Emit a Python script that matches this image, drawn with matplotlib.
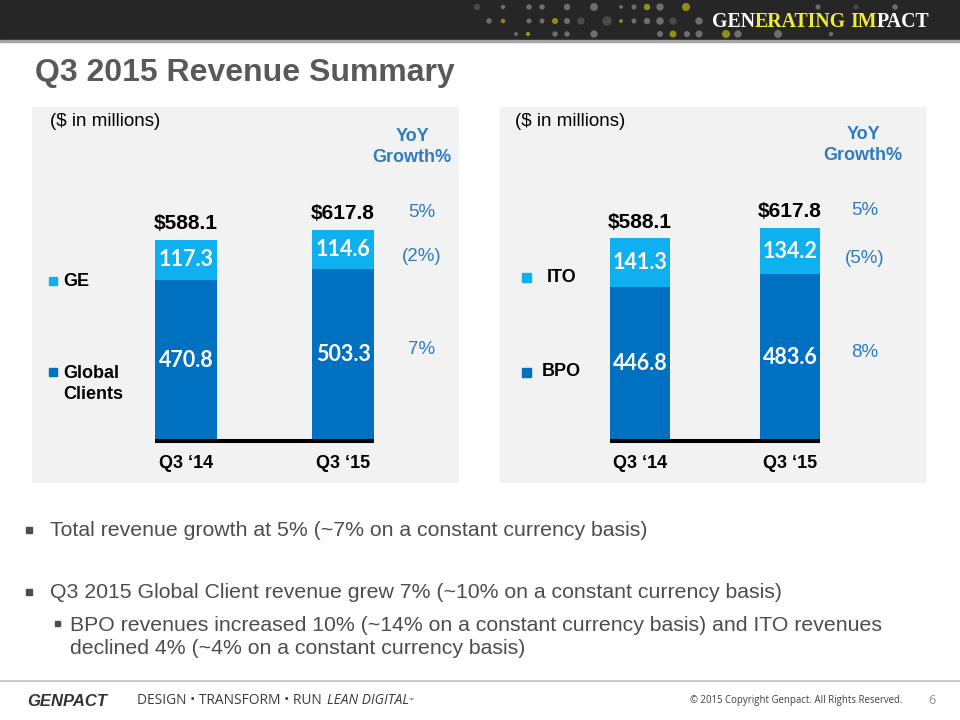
import numpy as np
import matplotlib
matplotlib.use("Agg")
import matplotlib.pyplot as plt
from matplotlib.patches import Rectangle, Circle

# ---- data -------------------------------------------------------------
quarters = ["Q3 \u201814", "Q3 \u201815"]
totals = [588.1, 617.8]

client_names = ["GE", "Global\nClients"]
ge_rev = [117.3, 114.6]
global_clients_rev = [470.8, 503.3]
client_growth = ["5%", "(2%)", "7%"]

service_names = ["ITO", "BPO"]
ito_rev = [141.3, 134.2]
bpo_rev = [446.8, 483.6]
service_growth = ["5%", "(5%)", "8%"]

bullets = [
    "Total revenue growth at 5% (~7% on a constant currency basis)",
    "Q3 2015 Global Client revenue grew 7% (~10% on a constant currency basis)",
]
sub_bullet = ("BPO revenues increased 10% (~14% on a constant currency basis) and ITO revenues\n"
              "declined 4% (~4% on a constant currency basis)")

DARK = "#0070C0"
LIGHT = "#0FB0F0"
BLUE_TXT = "#2F7BC1"
GRAY_TXT = "#4D4D4D"
SANS = ["Liberation Sans", "DejaVu Sans"]

W, H = 960, 720
fig = plt.figure(figsize=(9.6, 7.2), dpi=100, facecolor="white")
ov = fig.add_axes([0, 0, 1, 1])
ov.set_xlim(0, W)
ov.set_ylim(H, 0)
ov.axis("off")
renderer = fig.canvas.get_renderer()


def text_run(x, y, pieces, size, **common):
    # draw pieces of text one after the other on the overlay
    arts = []
    for s, kw in pieces:
        if s is None:
            x += kw * size
            continue
        kw = dict(kw)
        t = ov.text(x, y, s, fontsize=size * kw.pop("rel", 1.0), **common, **kw)
        arts.append(t)
        x += t.get_window_extent(renderer=renderer).width
    return x, arts


def fitted_run(x0, x1, y, pieces, size, **common):
    # draw once, measure, then redraw at the size that spans x0..x1
    end, arts = text_run(x0, y, pieces, size, **common)
    for a in arts:
        a.remove()
    size = size * (x1 - x0) / (end - x0)
    text_run(x0, y, pieces, size, **common)


# ---- header band --------------------------------------------------------
ov.add_patch(Rectangle((0, 0), W, 40, color="#262626", zorder=0))
ov.add_patch(Rectangle((0, 40), W, 2, color="#A6A6A6", zorder=0))

dot_colors = {"g": "#6E6E6E", "d": "#4A4A4A", "y": "#938D18"}
header_dots = [
    (477, 7, 2.5, "d"), (503, 7, 1.5, "g"), (529, 7, 2, "g"), (542, 7, 2, "g"), (567, 7, 2.5, "g"),
    (594, 7, 3.2, "g"), (621, 7, 1.2, "g"), (634, 7, 1.8, "g"), (647, 7, 2.5, "y"), (660, 7, 3, "g"),
    (686, 7, 3.3, "y"), (818, 7, 1.8, "g"), (856, 7, 1.8, "d"), (895, 7, 2, "g"),
    (489, 21, 2, "g"), (503, 21, 1.5, "y"), (529, 21, 1.8, "g"), (542, 21, 1.8, "g"), (555, 21, 2.3, "y"),
    (567, 21, 2.3, "g"), (581, 21, 3, "d"), (607, 21, 4, "d"), (621, 21, 1.2, "y"), (634, 21, 1.8, "g"),
    (647, 21, 2.5, "g"), (660, 21, 3, "g"), (673, 21, 3, "d"), (699, 21, 3, "g"),
    (516, 34, 1.2, "g"), (528, 34, 1.5, "y"), (555, 34, 2, "g"), (567, 34, 2, "g"), (594, 34, 3, "g"),
    (660, 34, 2.3, "g"), (673, 34, 2.8, "y"), (687, 34, 2.3, "g"), (699, 34, 2.8, "g"), (726, 34, 3.3, "y"),
    (738, 34, 3, "g"), (778, 34, 3.3, "g"), (831, 34, 1.5, "g"),
]
for dx, dy, r, c in header_dots:
    ov.add_patch(Circle((dx, dy), r, color=dot_colors[c], zorder=1))

fitted_run(712, 930, 22,
           [("GEN", dict(color="white")), ("ERATING", dict(color="#EDED3A")), (None, 0.3),
            ("IM", dict(color="#EDED3A")), ("PACT", dict(color="white"))],
           14, fontweight="bold", family="Liberation Serif", va="center")

# ---- title ----------------------------------------------------------------
ov.text(35, 73, "Q3 2015 Revenue Summary", fontsize=23, fontweight="bold", color="#595959",
        va="center", ha="left", family=SANS)

# ---- panels -------------------------------------------------------------
ov.add_patch(Rectangle((32, 107), 426, 375, color="#F2F2F2", zorder=0))
ov.add_patch(Rectangle((500, 107), 425, 375, color="#F2F2F2", zorder=0))


def bar_panel(cx0, pitch, base, scale, bar_px, low, high, growth):
    left, right, top = cx0 - 150, cx0 + pitch + 150, 110
    ax = fig.add_axes([left / W, 1 - base / H, (right - left) / W, (base - top) / H])
    ax.patch.set_alpha(0)
    ax.set_xlim(-150 / pitch, (pitch + 150) / pitch)
    ax.set_ylim(0, (base - top) / scale)
    ax.axis("off")
    x = np.arange(len(quarters))
    w = bar_px / pitch
    ax.bar(x, low, w, color=DARK, zorder=2)
    ax.bar(x, high, w, bottom=low, color=LIGHT, zorder=2)
    ax.plot([-w / 2, x[-1] + w / 2], [0, 0], color="black", lw=2.9,
            solid_capstyle="butt", zorder=3, clip_on=False)
    val_kw = dict(ha="center", va="center", color="white", fontsize=15.5,
                  fontweight="bold", family="Lato", zorder=4)
    for i in x:
        ax.text(i, low[i] / 2, f"{low[i]:.1f}", **val_kw)
        ax.text(i, low[i] + high[i] / 2, f"{high[i]:.1f}", **val_kw)
        ax.annotate(f"${totals[i]:.1f}", (i, totals[i]), xytext=(0, 16), textcoords="offset pixels",
                    ha="center", va="center", fontsize=15, fontweight="bold", family=SANS)
        ax.annotate(quarters[i], (i, 0), xytext=(0, -22), textcoords="offset pixels",
                    ha="center", va="center", fontsize=13, fontweight="bold", family=SANS)
    gx = x[-1] + 0.5
    g_kw = dict(textcoords="offset pixels", ha="center", va="center", fontsize=13.5,
                color=BLUE_TXT, family=SANS)
    ax.annotate(growth[0], (gx, totals[-1]), xytext=(0, 17), **g_kw)
    ax.annotate(growth[1], (gx, low[-1] + high[-1] / 2), xytext=(0, -7), **g_kw)
    ax.annotate(growth[2], (gx, low[-1] / 2), xytext=(0, 5), **g_kw)
    return ax


bar_panel(186, 157, 441, 0.342, 62, global_clients_rev, ge_rev, client_growth)
bar_panel(640, 150, 441, 0.345, 60, bpo_rev, ito_rev, service_growth)

# panel headers
for px, gx, gy in [(50, 412, 147), (515, 863, 145)]:
    ov.text(px, 122, "($ in millions)", fontsize=13.5, va="center", ha="left", family=SANS)
    ov.text(gx, gy, "YoY\nGrowth%", fontsize=13, fontweight="bold", color=BLUE_TXT,
            ha="center", va="center", linespacing=1.35, family=SANS)

# legends
leg_kw = dict(fontsize=13, fontweight="bold", va="center", ha="left", family=SANS)
ov.add_patch(Rectangle((49, 277), 8, 8, color=LIGHT))
ov.text(63, 281, client_names[0], **leg_kw)
ov.add_patch(Rectangle((49, 368), 8, 8, color=DARK))
ov.text(63, 384, client_names[1], linespacing=1.3, **leg_kw)
ov.add_patch(Rectangle((522, 273), 9, 9, color=LIGHT))
ov.text(547, 277, service_names[0], **leg_kw)
ov.add_patch(Rectangle((522, 368), 9, 9, color=DARK))
ov.text(542, 372, service_names[1], **leg_kw)

# ---- bullets --------------------------------------------------------------
b_kw = dict(fontsize=15.3, color=GRAY_TXT, va="center", ha="left", family=SANS)
for by, txt in zip([530, 592], bullets):
    ov.add_patch(Rectangle((26, by - 3.5), 6, 6, color=GRAY_TXT))
    ov.text(50, by, txt, **b_kw)
ov.add_patch(Rectangle((55, 621), 5, 5, color=GRAY_TXT))
ov.text(70, 637, sub_bullet, linespacing=1.3, **b_kw)

# ---- footer ---------------------------------------------------------------
ov.plot([0, W], [681, 681], color="#BFBFBF", lw=1.2)
ov.text(27, 701, "GENPACT", fontsize=12, fontweight="bold", fontstyle="italic", color="#333333",
        va="center", ha="left", family=SANS)
fitted_run(137, 412, 701,
           [("DESIGN \u2022 TRANSFORM \u2022 RUN", {}), (None, 0.5),
            ("LEAN DIGITAL", dict(fontstyle="italic")), ("\u2122", dict(rel=0.45))],
           10.5, va="center", ha="left", color="#3A3A3A", family=["Open Sans", "DejaVu Sans"])
ov.text(903, 700, "\u00a9 2015 Copyright Genpact. All Rights Reserved.", fontsize=6.9, color="#404040",
        va="center", ha="right", family=["Open Sans", "DejaVu Sans"])
ov.text(932, 701, "6", fontsize=9, color="#8C8C8C", va="center", ha="center", family="Open Sans")

fig.savefig("out.png", dpi=100, facecolor="white")
